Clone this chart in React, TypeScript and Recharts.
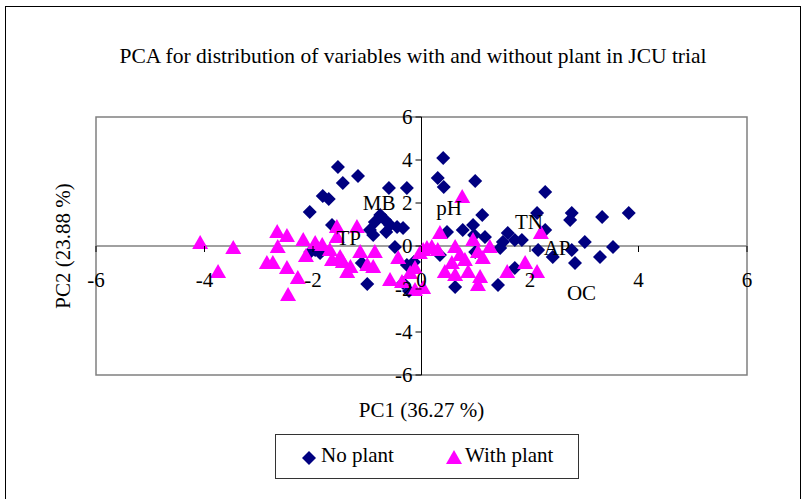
import { ReferenceArea, ReferenceLine, Scatter, ScatterChart, XAxis, YAxis } from "recharts";

const xTicks = [-6, -4, -2, 0, 2, 4, 6];
const yTicks = [-6, -4, -2, 0, 2, 4, 6];

const noPlantX = [
  -1.54, -1.17, -1.45, -1.82, -1.71, -2.06, -0.6, -0.27, -0.76, -0.67, -0.86, -0.58, -0.95, -0.89, -0.34,
  -0.45, -1.65, -1.1, -1.0, -0.49, -0.27, -0.23, -0.34, -1.96, 0.4, 0.3, 0.41, 0.99, 1.12, 0.95, 0.76, 0.47,
  1.17, 1.59, 1.5, 1.45, 1.72, 1.41, 0.62, 0.34, 1.72, 0.99, 2.28, 2.77, 2.74, 3.33, 3.82, 1.85, 2.28, 3.01,
  3.53, 2.77, 3.29, 2.83, 2.42, 2.15, 2.13, -0.14, -2.05, -1.87, -0.65, 0.97,
];
const noPlantY = [
  3.67, 3.26, 2.93, 2.33, 2.19, 1.58, 2.7, 2.7, 1.44, 1.21, 1.12, 0.98, 0.74, 0.51, 0.84, 0.88, 0.98, -0.79,
  -1.77, -0.05, -0.88, -2.09, -1.72, -0.19, 4.09, 3.16, 2.74, 3.02, 1.44, 0.98, 0.74, 0.65, 0.42, 0.6, 0.19,
  -0.09, 0.28, -1.81, -1.91, -0.42, -1.02, -0.28, 2.51, 1.53, 1.21, 1.35, 1.53, 0.28, 0.74, 0.19, -0.05,
  -0.19, -0.51, -0.79, -0.51, -0.19, 1.53, -0.74, -0.28, -0.33, 0.65, 0.51,
];

const withPlantX = [
  -4.08, -3.47, -3.75, -2.66, -2.48, -2.65, -2.85, -2.74, -2.48, -2.28, -2.46, -2.18, -2.13, -1.96, -1.83,
  -1.69, -1.56, -1.19, -1.65, -1.5, -1.45, -1.37, -1.13, -0.86, -1.0, -0.89, -1.56, -0.58, -0.36, -0.43,
  -0.03, 0.1, -0.12, 0.75, 0.34, 0.03, 0.19, 0.3, 0.62, 0.95, 1.26, 1.04, 1.13, 0.71, 0.8, 0.56, 0.43, 0.86,
  1.08, 0.62, 1.04, 1.58, 0.03, 2.2, 1.91, 2.13, -0.21, -1.31, -0.12,
];
const withPlantY = [
  0.14, -0.09, -1.21, 0.65, 0.47, -0.05, -0.79, -0.79, -1.02, -1.49, -2.28, 0.28, -0.47, 0.14, 0.05, -0.19,
  0.88, 0.88, -0.65, -0.51, -0.74, -1.21, -0.28, -0.28, -0.88, -0.98, 0.42, -1.58, -1.67, -0.56, -0.33,
  -0.09, -2.05, 2.28, 0.6, -0.19, -0.05, -0.19, -0.05, 0.28, -0.05, -0.28, -0.56, -0.42, -0.65, -0.79,
  -1.21, -1.21, -1.44, -1.35, -1.81, -1.21, -1.95, 0.6, -0.79, -1.21, -1.26, -0.98, -1.02,
];

// variable loadings, only the names are shown
const loadingNames = ["MB", "TP", "pH", "TN", "AP", "OC"];
const loadingX = [-0.78, -1.34, 0.51, 1.98, 2.5, 2.95];
const loadingY = [2.0, 0.37, 1.77, 1.12, -0.09, -2.19];

const noPlant = noPlantX.map((x, i) => ({ x, y: noPlantY[i] }));
const withPlant = withPlantX.map((x, i) => ({ x, y: withPlantY[i] }));
const loadings = loadingNames.map((name, i) => ({ name, x: loadingX[i], y: loadingY[i] }));

const W = 804;
const H = 499;
const margin = { top: 117, right: 57, bottom: 123, left: 95 };
const plotLeft = margin.left + 1;
const plotBottom = H - margin.bottom - 1;
const zeroX = plotLeft + (W - margin.right - plotLeft) / 2;
const zeroY = margin.top + (plotBottom - margin.top) / 2;

const font = "'Liberation Serif', 'Times New Roman', serif";
const NAVY = "#000080";
const MAGENTA = "#FF00FF";

const Diamond = ({ cx, cy }: any) => (
  <polygon
    points={`${cx},${cy - 7} ${cx + 7},${cy} ${cx},${cy + 7} ${cx - 7},${cy}`}
    fill={NAVY}
  />
);

const Triangle = ({ cx, cy }: any) => (
  <polygon points={`${cx},${cy - 8} ${cx + 8},${cy + 6} ${cx - 8},${cy + 6}`} fill={MAGENTA} />
);

const LoadingLabel = ({ cx, cy, payload }: any) => (
  <text x={cx} y={cy + 7} textAnchor="middle" fontFamily={font} fontSize={21} fill="#000">
    {payload.name}
  </text>
);

const renderXTick = ({ x, payload }: any) => (
  <g key={`xt-${payload.value}`}>
    <line x1={x} y1={zeroY} x2={x} y2={zeroY + 6} stroke="#000" />
    <text x={x} y={287} textAnchor="middle" fontFamily={font} fontSize={21} fill="#000">
      {payload.value}
    </text>
  </g>
);

const renderYTick = ({ y, payload }: any) => (
  <g key={`yt-${payload.value}`}>
    <line x1={zeroX - 6} y1={y} x2={zeroX} y2={y} stroke="#000" />
    <text x={zeroX - 9} y={y + 7} textAnchor="end" fontFamily={font} fontSize={21} fill="#000">
      {payload.value}
    </text>
  </g>
);

// the axes share the same scales in both layers
const axes = (withTicks: boolean) => [
  <XAxis
    key="x"
    type="number"
    dataKey="x"
    domain={[-6, 6]}
    ticks={xTicks}
    interval={0}
    height={1}
    axisLine={false}
    tickLine={false}
    tick={withTicks ? renderXTick : false}
  />,
  <YAxis
    key="y"
    type="number"
    dataKey="y"
    domain={[-6, 6]}
    ticks={yTicks}
    interval={0}
    width={1}
    axisLine={false}
    tickLine={false}
    tick={withTicks ? renderYTick : false}
  />,
];

export default function App() {
  return (
    <div style={{ position: "absolute", left: 0, top: 0, width: W, height: H, overflow: "hidden", background: "#fff", fontFamily: font }}>
      <div style={{ position: "absolute", left: 5, top: 6, width: 794, height: 520, border: "1px solid #000" }} />
      <div style={{ position: "absolute", left: 0, top: 44, width: 826, textAlign: "center", fontSize: 21.5 }}>
        PCA for distribution of variables with and without plant in JCU trial
      </div>
      <div style={{ position: "absolute", left: 0, top: 398, width: 843, textAlign: "center", fontSize: 21 }}>
        PC1 (36.27 %)
      </div>
      <div
        style={{
          position: "absolute",
          left: 63,
          top: 246,
          transform: "translate(-50%, -50%) rotate(-90deg)",
          whiteSpace: "nowrap",
          fontSize: 21,
        }}
      >
        PC2 (23.88 %)
      </div>
      <div style={{ position: "absolute", left: 0, top: 0 }}>
        <ScatterChart width={W} height={H} margin={margin}>
          {axes(false)}
          <ReferenceArea x1={-6} x2={6} y1={-6} y2={6} fill="none" stroke="#808080" strokeWidth={1.5} />
          <ReferenceLine x={0} stroke="#000" />
          <ReferenceLine y={0} stroke="#808080" strokeWidth={1.5} />
          <Scatter data={noPlant} shape={<Diamond />} isAnimationActive={false} />
          <Scatter data={withPlant} shape={<Triangle />} isAnimationActive={false} />
        </ScatterChart>
      </div>
      {/* tick labels and variable names sit on top of the markers */}
      <div style={{ position: "absolute", left: 0, top: 0, pointerEvents: "none" }}>
        <ScatterChart width={W} height={H} margin={margin}>
          {axes(true)}
          <Scatter data={loadings} shape={<LoadingLabel />} isAnimationActive={false} />
        </ScatterChart>
      </div>
      <div
        style={{
          position: "absolute",
          left: 275,
          top: 434,
          width: 302,
          height: 43,
          border: "1px solid #333",
          fontSize: 21,
        }}
      >
        <svg width={16} height={16} style={{ position: "absolute", left: 25, top: 15 }}>
          <polygon points="8,1 15,8 8,15 1,8" fill={NAVY} />
        </svg>
        <span style={{ position: "absolute", left: 45, top: 8 }}>No plant</span>
        <svg width={18} height={16} style={{ position: "absolute", left: 169, top: 14 }}>
          <polygon points="9,1 17,15 1,15" fill={MAGENTA} />
        </svg>
        <span style={{ position: "absolute", left: 189, top: 8 }}>With plant</span>
      </div>
    </div>
  );
}
